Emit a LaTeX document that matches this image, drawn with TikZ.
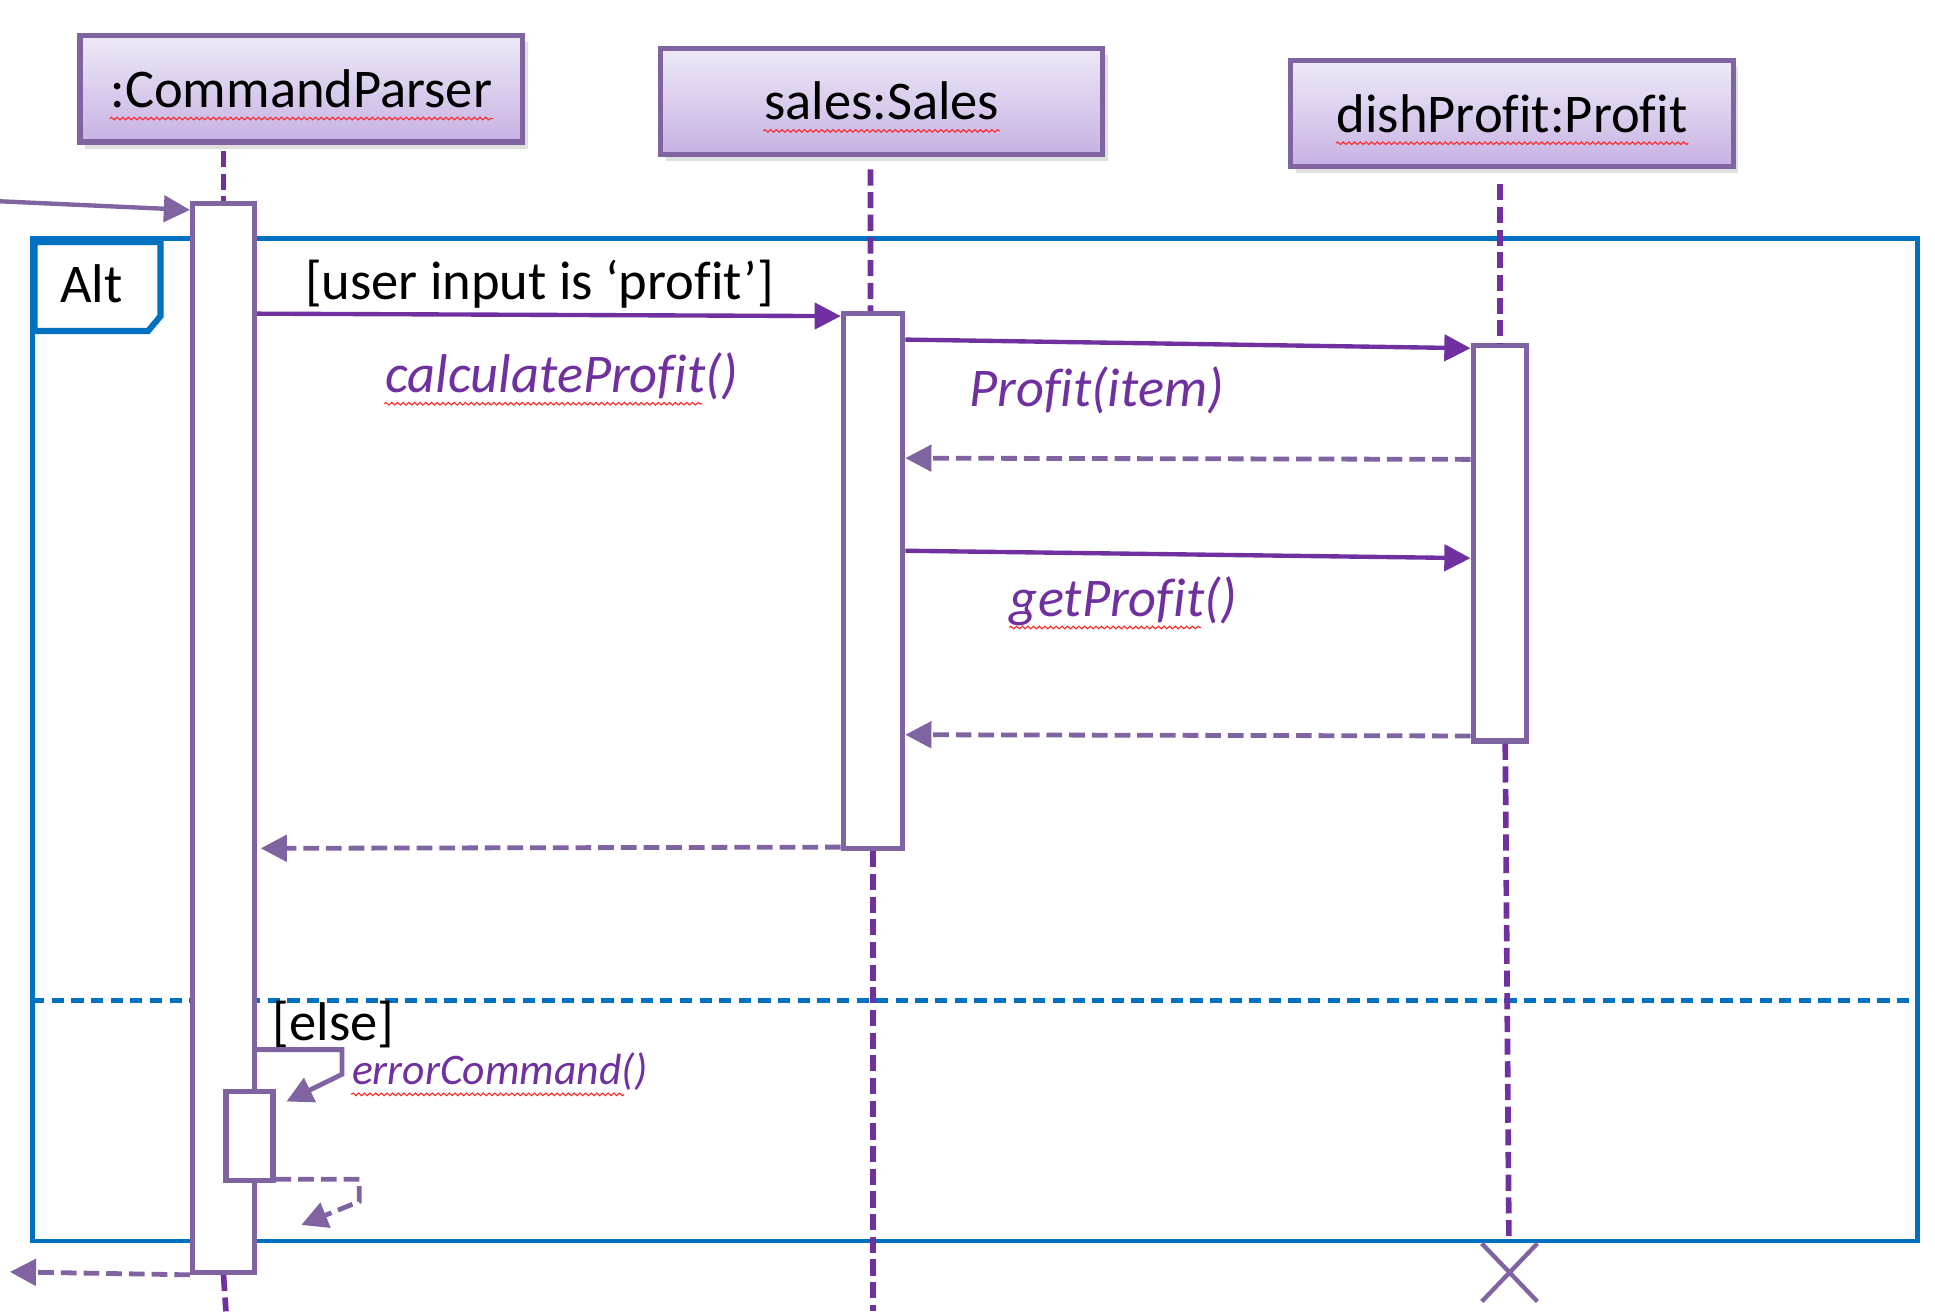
\documentclass[tikz,border=0pt]{standalone}
\usepackage{fontspec}
\setmainfont{Carlito}[Ligatures=NoCommon]
\usetikzlibrary{arrows.meta,shadows,decorations.pathmorphing}
\definecolor{headline}{HTML}{8064A2}
\definecolor{msgpurple}{HTML}{7030A0}
\definecolor{frameblue}{HTML}{0070C0}
\definecolor{headtop}{HTML}{EFE9F8}
\definecolor{headbot}{HTML}{C6B2E2}

\begin{document}
\begin{tikzpicture}[x=0.009955cm,y=-0.009955cm]
		\tikzstyle{every node}+=[inner sep=0pt, font=\fontsize{12.5}{15}\selectfont]
		\tikzstyle{head}=[draw=headline, line width=1.2pt, top color=headtop, bottom color=headbot, minimum width=3.564cm, minimum height=0.856cm, drop shadow={shadow xshift=1.2pt, shadow yshift=-1.5pt, opacity=0.25}]
		\tikzstyle{bar}=[draw=headline, line width=1.2pt, fill=white]
		\tikzstyle{lifeline}=[msgpurple, line width=1.3pt, dash pattern=on 3.7pt off 1.5pt]
		\tikzstyle{call}=[msgpurple, line width=1pt, -{Triangle[length=6pt,width=6pt]}]
		\tikzstyle{reply}=[headline, line width=1.1pt, dash pattern=on 3.6pt off 1.6pt, -{Triangle[length=6pt,width=6pt]}]
		\tikzstyle{msg}=[msgpurple, font=\fontsize{12.5}{15}\selectfont\itshape]
		\tikzstyle{spell}=[red!85, line width=0.25pt, decorate, decoration={snake, amplitude=0.3pt, segment length=1.3pt}]
		\useasboundingbox (0,0) rectangle (1567.05,1061.8);
		% heads
		\node [head] (parserHead) at (244,72) {};
		\node (parserName) at (parserHead) {:CommandParser};
		\node [head] (salesHead) at (714,82) {};
		\node (salesName) at (salesHead) {sales:Sales};
		\node [head] (profitHead) at (1224.5,92) {};
		\node (profitName) at (profitHead) {dishProfit:Profit};
		\draw [spell] ([yshift=-2.5pt]parserName.base west) -- ([yshift=-2.5pt]parserName.base east);
		\draw [spell] ([yshift=-2.5pt]salesName.base west) -- ([yshift=-2.5pt]salesName.base east);
		\draw [spell] ([yshift=-2.5pt]profitName.base west) -- ([yshift=-2.5pt]profitName.base east);
		% alt frame
		\draw [frameblue, line width=1.1pt] (26,193) rectangle (1553,1005);
		\draw [frameblue, line width=1.1pt, dash pattern=on 2.8pt off 1.7pt] (26,810) -- (1553,810);
		\draw [frameblue, line width=1.4pt] (28,196) -- (130,196) -- (130,256) -- (120,268) -- (28,268) -- cycle;
		\node (altLabel) at (74,230) {Alt};
		% activation bars
		\node [bar, minimum width=0.498cm, minimum height=8.611cm] (parserBar) at (181,597.5) {};
		\node [bar, minimum width=0.478cm, minimum height=4.311cm] (salesBar) at (707,470.5) {};
		\node [bar, minimum width=0.428cm, minimum height=3.186cm] (profitBar) at (1214.5,440) {};
		\node [bar, minimum width=0.378cm, minimum height=0.717cm] (errorBar) at (202,920) {};
		% lifelines
		\draw [lifeline] (parserBar.north |- parserHead.south) ++(0,5) -- (parserBar.north);
		\draw [lifeline] (parserBar.south) -- (183,1062);
		\draw [lifeline] (salesBar.north |- salesHead.south) ++(-2,10) -- ([xshift=-0.02cm]salesBar.north);
		\draw [lifeline] (salesBar.south) -- (707,1062);
		\draw [lifeline] (profitBar.north |- profitHead.south) ++(0,12) -- (profitBar.north);
		\coordinate (profitEnd) at (1222,1005);
		\draw [lifeline] ([xshift=0.045cm]profitBar.south) -- (profitEnd);
		\draw [headline, line width=1pt] (1200,1007) -- (1245,1054);
		\draw [headline, line width=1pt] (1245,1007) -- (1200,1054);
		% messages
		\coordinate (found) at (0,163);
		\draw [headline, line width=1pt, -{Triangle[length=6pt,width=6pt]}] (found) -- (parserBar.west |- 0,170);
		\draw [call] (parserBar.east |- 0,254) -- (salesBar.west |- 0,256);
		\node (guardA) at (437,230) {[user input is ‘profit’]};
		\node [msg] (calcLabel) at (455,305) {calculateProfit()};
		\draw [call] (salesBar.east |- 0,275) -- (profitBar.west |- 0,282);
		\node [msg] (newLabel) at (888,316) {Profit(item)};
		\draw [reply] (profitBar.west |- 0,372) -- (salesBar.east |- 0,371);
		\draw [call] (salesBar.east |- 0,446) -- (profitBar.west |- 0,452);
		\node [msg] (getLabel) at (910,487) {getProfit()};
		\draw [reply] (profitBar.west |- 0,596) -- (salesBar.east |- 0,595);
		\draw [reply] (salesBar.west |- 0,686) -- ([xshift=0.03cm]parserBar.east |- 0,687);
		\node (guardB) at (270,830) {[else]};
		\coordinate (selfIn) at (232,892);
		\draw [headline, line width=1.1pt, -{Triangle[length=6pt,width=6pt]}] (parserBar.east |- 0,850) -- (277,850) -- (277,870) -- (selfIn);
		\node [msg, font=\fontsize{10}{12}\selectfont\itshape] (errLabel) at (405,868) {errorCommand()};
		\coordinate (selfOut) at (244,992);
		\draw [reply] (errorBar.east |- 0,955) -- (291,955) -- (291,973) -- (selfOut);
		\coordinate (lost) at (8,1030);
		\draw [reply] (parserBar.south west) -- (lost);
		\draw [spell] ([yshift=-2.5pt]calcLabel.base west) -- ([yshift=-2.5pt,xshift=-0.3cm]calcLabel.base east);
		\draw [spell] ([yshift=-2.5pt]getLabel.base west) -- ([yshift=-2.5pt,xshift=-0.3cm]getLabel.base east);
		\draw [spell] ([yshift=-2.2pt]errLabel.base west) -- ([yshift=-2.2pt,xshift=-0.2cm]errLabel.base east);
	\end{tikzpicture}
\end{document}
